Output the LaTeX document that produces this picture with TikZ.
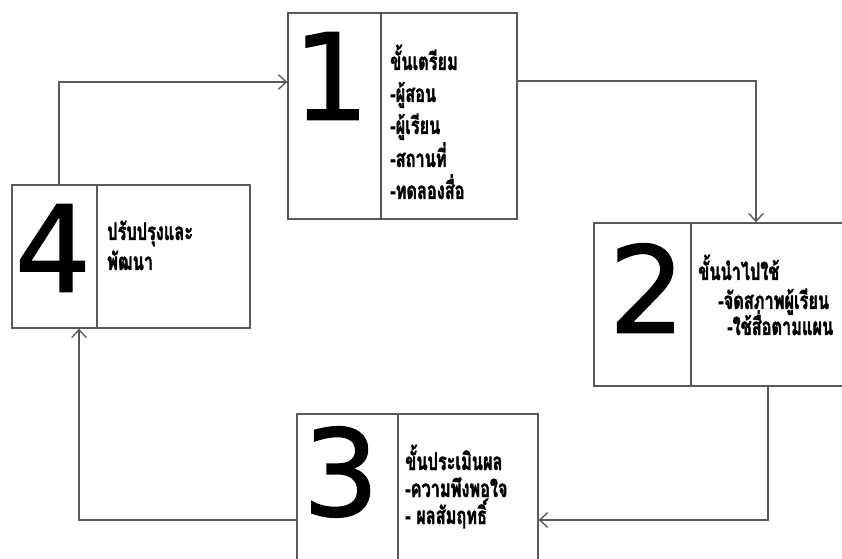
\documentclass[tikz,border=0pt]{standalone}
\usepackage{fontspec}
\usetikzlibrary{fit,arrows.meta}
\newfontfamily\thaifont[Script=Thai,FakeStretch=0.68,FakeBold=1.6]{Loma}
\newfontfamily\digitfont[FakeBold=1.2]{DejaVu Sans}
\tikzset{
  box/.style={draw=black!65, line width=1pt, inner sep=0pt},
  divider/.style={draw=black!65, line width=1pt},
  conn/.style={draw=black!65, line width=1pt, -{Straight Barb[length=6pt,width=11pt]}},
  digit/.style={inner sep=0pt, font=\digitfont\fontsize{90}{90}\selectfont},
  thai/.style={inner sep=0pt, anchor=base west, font=\thaifont\bfseries\fontsize{18}{20}\selectfont}
}
\begin{document}
\begin{tikzpicture}[x=0.75pt,y=-0.75pt]
\useasboundingbox (0,0) rectangle (842,559);
\clip (0,0) rectangle (842,559);
\fill[white] (0,0) rectangle (842,559);
% boxes
\node[box, fit={(288,13) (517,219)}] (b1) {};
\node[box, fit={(594,223) (850,386)}] (b2) {};
\node[box, fit={(297,414) (538,570)}] (b3) {};
\node[box, fit={(12,185) (250,328)}] (b4) {};
\draw[divider] (381,13) -- (381,219);
\draw[divider] (691,223) -- (691,386);
\draw[divider] (398,414) -- (398,570);
\draw[divider] (97,185) -- (97,328);
% digits
\node[digit] (n1) at (331,76) {1};
\node[digit] (n2) at (647,288) {2};
\node[digit] (n3) at (341,472) {3};
\node[digit] (n4) at (53,248) {4};
% texts
\node[thai] (t11) at (390,70) {ขั้นเตรียม};
\node[thai] (t12) at (390,102) {-ผู้สอน};
\node[thai] (t13) at (390,134) {-ผู้เรียน};
\node[thai] (t14) at (390,167) {-สถานที่};
\node[thai] (t15) at (390,199) {-ทดลองสื่อ};
\node[thai] (t21) at (698,280) {ขั้นนำไปใช้};
\node[thai] (t22) at (718,309) {-จัดสภาพผู้เรียน};
\node[thai] (t23) at (727,335) {-ใช้สื่อตามแผน};
\node[thai] (t31) at (405,470) {ขั้นประเมินผล};
\node[thai] (t32) at (405,497) {-ความพึงพอใจ};
\node[thai] (t33) at (405,524) {- ผลสัมฤทธิ์};
\node[thai] (t41) at (107,240) {ปรับปรุงและ};
\node[thai] (t42) at (107,270) {พัฒนา};
% connectors
\coordinate (a4) at (59,82);
\coordinate (a1) at (756,81);
\coordinate (a2) at (768,520);
\coordinate (a3) at (79,520);
\draw[conn] (b4.north -| a4) -- (a4) -- (b1.west |- a4);
\draw[conn] (b1.east |- a1) -- (a1) -- (b2.north -| a1);
\draw[conn] (b2.south -| a2) -- (a2) -- (b3.east |- a2);
\draw[conn] (b3.west |- a3) -- (a3) -- (b4.south -| a3);
\end{tikzpicture}
\end{document}
